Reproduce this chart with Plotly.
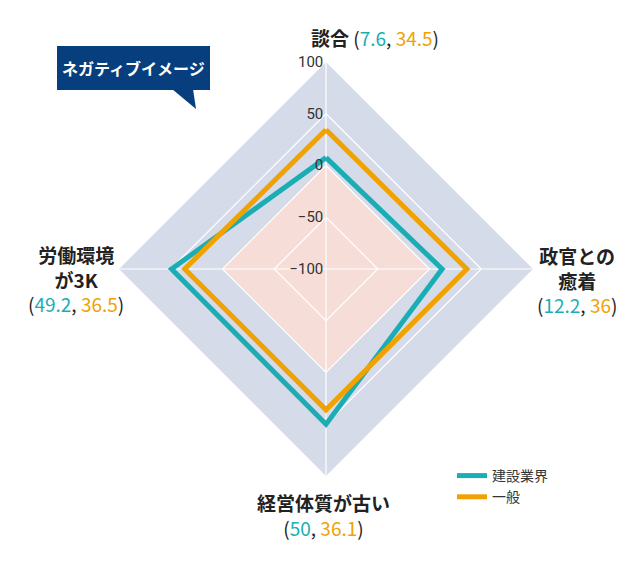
import plotly.graph_objects as go

# --- datos ---
categorias = ['談合', '政官との癒着', '経営体質が古い', '労働環境が3K']
kensetsu = [7.6, 12.2, 50, 49.2]      # 建設業界
ippan = [34.5, 36, 36.1, 36.5]        # 一般
ticks_radiales = [-100, -50, 0, 50, 100]

TEAL = '#1aaeb4'
NARANJA = '#f0a202'
LAVANDA = '#d6dbe9'
ROSA = '#f6ddd8'
AZUL = '#073f7e'
W, H = 636, 565
OFF = 8  # margen por defecto del <body> en la página


def px(x):
    return (x - OFF) / W


def py(y):
    return (H - (y - OFF)) / H


cerrar = lambda v: list(v) + [v[0]]
theta_c = cerrar(categorias)

fig = go.Figure()

# zona rosa (interior del anillo 0)
fig.add_trace(go.Scatterpolar(r=cerrar([0] * 4), theta=theta_c, mode='lines',
                              fill='toself', fillcolor=ROSA, line=dict(width=0),
                              hoverinfo='skip', showlegend=False))
# anillos de la rejilla
for v in [50, 0, -50]:
    fig.add_trace(go.Scatterpolar(r=cerrar([v] * 4), theta=theta_c, mode='lines',
                                  line=dict(color='white', width=1.2),
                                  hoverinfo='skip', showlegend=False))
# radios
for c in categorias:
    fig.add_trace(go.Scatterpolar(r=[-100, 100], theta=[c, c], mode='lines',
                                  line=dict(color='white', width=1.2),
                                  hoverinfo='skip', showlegend=False))

fig.add_trace(go.Scatterpolar(r=cerrar(kensetsu), theta=theta_c, mode='lines',
                              name='建設業界', line=dict(color=TEAL, width=5)))
fig.add_trace(go.Scatterpolar(r=cerrar(ippan), theta=theta_c, mode='lines',
                              name='一般', line=dict(color=NARANJA, width=5)))

fig.update_layout(
    width=W, height=H,
    margin=dict(l=0, r=0, t=0, b=0, autoexpand=False),
    paper_bgcolor='white',
    font=dict(family='Noto Sans CJK JP, sans-serif', color='#222'),
    polar=dict(
        domain=dict(x=[px(119), px(533)], y=[py(476), py(62)]),
        gridshape='linear',
        bgcolor=LAVANDA,
        radialaxis=dict(range=[-100, 100], tickvals=ticks_radiales, angle=90,
                        side='counterclockwise', tickangle=90,
                        showgrid=False, showline=False, ticks='',
                        tickfont=dict(family='Liberation Sans Narrow, Roboto, sans-serif',
                                      size=15, color='#333')),
        angularaxis=dict(direction='clockwise', rotation=90, showgrid=False,
                         showline=False, showticklabels=False, ticks=''),
    ),
    legend=dict(x=px(452), y=py(460), xanchor='left', yanchor='top',
                font=dict(size=14, color='#333'), tracegroupgap=6,
                bgcolor='rgba(0,0,0,0)'),
)


def etiqueta(lineas, a, b):
    return (lineas + '<span style="font-weight:normal">(</span>'
            f'<span style="color:{TEAL};font-weight:normal">{a}</span>'
            '<span style="font-weight:normal">, </span>'
            f'<span style="color:{NARANJA};font-weight:normal">{b}</span>'
            '<span style="font-weight:normal">)</span>')


anot = [
    (etiqueta('<b>談合</b> ', kensetsu[0], ippan[0]), 375, 38),
    (etiqueta('<b>政官との</b><br><b>癒着</b><br>', kensetsu[1], ippan[1]), 577, 280),
    (etiqueta('<b>経営体質が古い</b><br>', kensetsu[2], ippan[2]), 323, 515),
    (etiqueta('<b>労働環境</b><br><b>が3K</b><br>', kensetsu[3], ippan[3]), 76, 279),
]
for texto, x, y in anot:
    fig.add_annotation(text=texto, x=px(x), y=py(y), xref='paper', yref='paper',
                       xanchor='center', yanchor='middle',
                       showarrow=False, align='center',
                       font=dict(size=19, color='#222'))

# globo "ネガティブイメージ"
fig.add_shape(type='rect', xref='paper', yref='paper', layer='below',
              x0=px(57), x1=px(210), y0=py(90), y1=py(46),
              fillcolor=AZUL, line=dict(width=0))
fig.add_shape(type='path', xref='paper', yref='paper', layer='below',
              path=f'M {px(172)},{py(89)} L {px(196)},{py(109)} L {px(193)},{py(89)} Z',
              fillcolor=AZUL, line=dict(width=0))
fig.add_annotation(text='<b>ネガティブイメージ</b>', x=px(133), y=py(68), xref='paper',
                   yref='paper', xanchor='center', yanchor='middle', showarrow=False,
                   font=dict(size=16, color='white'))

fig.write_html('out.html')
